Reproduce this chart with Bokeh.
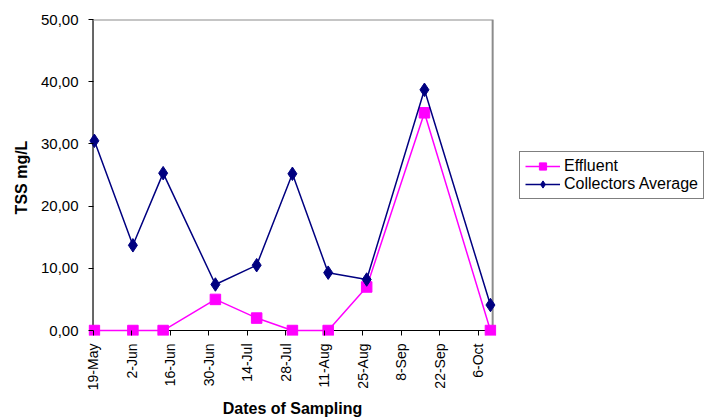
from datetime import datetime, timedelta

from bokeh.embed import file_html
from bokeh.models import (ColumnDataSource, CustomJSTickFormatter, DatetimeTickFormatter,
                          FixedTicker, Legend, LegendItem, Range1d)
from bokeh.plotting import figure
from bokeh.resources import INLINE

# Sampling dates and TSS concentrations (mg/L)
sample_dates = ["2003-05-19", "2003-06-02", "2003-06-13", "2003-07-02", "2003-07-17",
                "2003-07-30", "2003-08-12", "2003-08-26", "2003-09-16", "2003-10-10"]
effluent = [0.0, 0.0, 0.0, 5.0, 2.0, 0.0, 0.0, 7.0, 35.0, 0.0]
collectors_avg = [30.5, 13.7, 25.3, 7.4, 10.5, 25.2, 9.3, 8.2, 38.7, 4.1]

# Two-week tick labels along the date axis
tick_labels = ["19-May", "2-Jun", "16-Jun", "30-Jun", "14-Jul", "28-Jul",
               "11-Aug", "25-Aug", "8-Sep", "22-Sep", "6-Oct"]
y_ticks = [0, 10, 20, 30, 40, 50]

FONT = "Liberation Sans"
MAGENTA = "#FF00FF"
NAVY = "#000080"
BORDER = "#8c8c8c"

axis_start = datetime(2003, 5, 19)
axis_end = axis_start + timedelta(days=145.3)
y_min, y_max = 0, 50

# each sample sits in the middle of its day
xs = [datetime.strptime(d, "%Y-%m-%d") + timedelta(hours=12) for d in sample_dates]
src = ColumnDataSource(dict(x=xs, eff=effluent, col=collectors_avg))

# The frame reaches a few pixels past the axes so edge markers are drawn whole;
# the tick marks fill that gap (drawn inward from the frame edge).
p = figure(frame_width=408, frame_height=316, output_backend="svg", toolbar_location=None,
           x_axis_type="datetime",
           x_range=Range1d(axis_start - timedelta(days=1.64), axis_start + timedelta(days=146.7)),
           y_range=Range1d(-0.80, y_max),
           min_border_left=88, min_border_right=0, min_border_top=19, min_border_bottom=84)
p.background_fill_color = "white"
p.border_fill_color = "white"
p.outline_line_color = None
p.xgrid.visible = False
p.ygrid.visible = False


def to_ms(d):
    return (d - datetime(1970, 1, 1)).total_seconds() * 1000


p.xaxis.ticker = FixedTicker(ticks=[to_ms(axis_start + timedelta(days=14 * i))
                                    for i in range(len(tick_labels))])
p.xaxis.formatter = DatetimeTickFormatter(days="%-d-%b", months="%-d-%b")
p.xaxis.major_label_orientation = 1.5708
p.yaxis.ticker = FixedTicker(ticks=y_ticks)
p.yaxis.formatter = CustomJSTickFormatter(code="return tick.toFixed(2).replace('.', ',');")

for ax in (p.xaxis, p.yaxis):
    ax.axis_line_color = None
    ax.major_tick_line_color = "#000000"
    ax.major_tick_in = 5
    ax.major_tick_out = 0
    ax.minor_tick_line_color = None
    ax.major_label_text_font = FONT
    ax.major_label_text_color = "#000000"
    ax.axis_label_text_font = FONT
    ax.axis_label_text_font_size = "16px"
    ax.axis_label_text_font_style = "bold"
    ax.axis_label_text_color = "#000000"

p.xaxis.major_label_text_font_size = "14px"
p.yaxis.major_label_text_font_size = "15px"
p.xaxis.axis_label = "Dates of Sampling"
p.yaxis.axis_label = "TSS mg/L"
p.xaxis.major_label_standoff = 8
p.xaxis.axis_label_standoff = 7
p.yaxis.major_label_standoff = 10
p.yaxis.axis_label_standoff = 8

# axis lines at zero / first date, and grey top and right edges of the plot area
p.line([axis_start, axis_start], [y_min, y_max], line_color="#000000", line_width=1.2)
p.line([axis_start, axis_end], [y_min, y_min], line_color="#000000", line_width=1.2)
p.line([axis_start, axis_end, axis_end], [y_max, y_max, y_min],
       line_color=BORDER, line_width=2)

eff_line = p.line("x", "eff", source=src, line_color=MAGENTA, line_width=1.5)
eff_pts = p.scatter("x", "eff", source=src, marker="square", size=10.5,
                    fill_color=MAGENTA, line_color=MAGENTA)
col_line = p.line("x", "col", source=src, line_color=NAVY, line_width=1.5)
col_pts = p.scatter("x", "col", source=src, marker="diamond", size=13.5,
                    fill_color=NAVY, line_color=NAVY)

legend = Legend(items=[LegendItem(label="Effluent", renderers=[eff_line, eff_pts]),
                       LegendItem(label="Collectors Average", renderers=[col_line, col_pts])],
                location=(23, 136))
legend.border_line_color = "#000000"
legend.border_line_width = 1
legend.background_fill_color = "white"
legend.label_text_font = FONT
legend.label_text_font_size = "16px"
legend.label_text_color = "#000000"
legend.glyph_width = 35
legend.glyph_height = 18
legend.label_height = 18
legend.label_standoff = 4
legend.padding = 5
legend.spacing = 0
legend.margin = 0
p.add_layout(legend, "right")

open("out.html", "w").write(file_html(p, INLINE))
